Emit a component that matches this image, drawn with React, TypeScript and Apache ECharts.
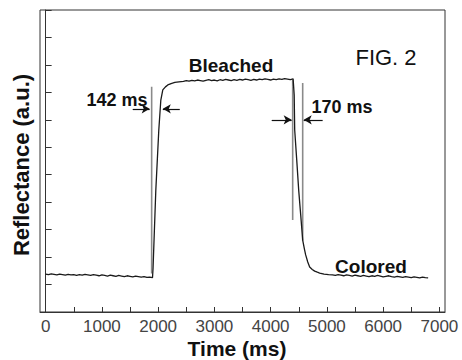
import React, { useEffect, useRef } from "react";
import * as echarts from "echarts";

// ---- Data ----
const sampleStepMs = 50;

// Colored state before bleaching: samples every 50 ms from 0 ms
const coloredStartT0 = 0;
const coloredStartValues = [
  1.38, 1.36, 1.39, 1.37, 1.35, 1.38, 1.36, 1.34, 1.37, 1.35,
  1.36, 1.33, 1.36, 1.34, 1.37, 1.35, 1.33, 1.36, 1.34, 1.32,
  1.35, 1.33, 1.31, 1.34, 1.32, 1.3, 1.33, 1.31, 1.29, 1.32,
  1.3, 1.28, 1.31, 1.29, 1.27, 1.29, 1.26, 1.27, 1.25,
];

// Bleaching rise
const riseTimes = [1910, 1959, 2012, 2048, 2083, 2130, 2172, 2230, 2297, 2370];
const riseValues = [1.6, 4.44, 6.63, 7.72, 8.09, 8.2, 8.27, 8.32, 8.36, 8.38];

// Bleached plateau: samples every 50 ms from 2450 ms
const bleachedT0 = 2450;
const bleachedValues = [
  8.4, 8.43, 8.41, 8.44, 8.42, 8.45, 8.43, 8.41, 8.44, 8.46,
  8.43, 8.45, 8.42, 8.46, 8.44, 8.47, 8.45, 8.43, 8.46, 8.44,
  8.47, 8.45, 8.48, 8.46, 8.44, 8.47, 8.45, 8.48, 8.46, 8.49,
  8.47, 8.45, 8.48, 8.46, 8.49, 8.47, 8.5, 8.48, 8.46, 8.49,
];

// Coloring fall
const fallTimes = [4419, 4428, 4464, 4499, 4535, 4570, 4600, 4623, 4660, 4694, 4740, 4783, 4830, 4872, 4950, 5030];
const fallValues = [7.9, 6.63, 5.54, 4.44, 3.53, 2.62, 2.3, 2.08, 1.82, 1.64, 1.55, 1.49, 1.45, 1.42, 1.38, 1.36];

// Colored state after: samples every 50 ms from 5100 ms
const coloredEndT0 = 5100;
const coloredEndValues = [
  1.35, 1.33, 1.36, 1.34, 1.32, 1.35, 1.33, 1.31, 1.34, 1.32,
  1.3, 1.33, 1.31, 1.29, 1.32, 1.3, 1.33, 1.31, 1.28, 1.3,
  1.32, 1.29, 1.27, 1.3, 1.28, 1.26, 1.29, 1.27, 1.25, 1.28,
  1.26, 1.24, 1.27, 1.25, 1.24,
];

// Vertical guide lines marking the response times
const guideTimes = [1885, 4392, 4570];
const guideTops = [8.2, 8.45, 8.34];
const guideBottoms = [1.4, 3.35, 2.6];

// Arrows: [from time, to time, level]
const arrowFrom = [1548, 2385, 4019, 4925];
const arrowTo = [1850, 2083, 4374, 4588];
const arrowLevel = [7.4, 7.4, 7.0, 7.0];

// Axis ticks
const xTickValues = [0, 500, 1000, 1500, 2000, 2500, 3000, 3500, 4000, 4500, 5000, 5500, 6000, 6500, 7000];
const xLabelValues = [0, 1000, 2000, 3000, 4000, 5000, 6000, 7000];

function regular(t0: number, values: number[]): [number, number][] {
  return values.map((v, i) => [t0 + i * sampleStepMs, v]);
}
function paired(ts: number[], vs: number[]): [number, number][] {
  return ts.map((t, i) => [t, vs[i]]);
}

export default function App() {
  const ref = useRef<HTMLDivElement>(null);
  useEffect(() => {
    document.body.style.margin = "0";
    const chart = echarts.init(ref.current!, undefined, { renderer: "svg" });
    const curve = [
      ...regular(coloredStartT0, coloredStartValues),
      ...paired(riseTimes, riseValues),
      ...regular(bleachedT0, bleachedValues),
      ...paired(fallTimes, fallValues),
      ...regular(coloredEndT0, coloredEndValues),
    ];
    const guideSeries = guideTimes.map((t, i) => ({
      type: "line",
      data: [
        [t, guideTops[i]],
        [t, guideBottoms[i]],
      ],
      showSymbol: false,
      silent: true,
      lineStyle: { color: "#8a8a8a", width: 1.6 },
      z: 1,
    }));
    const arrowData = arrowFrom.map((f, i) => [
      { coord: [f, arrowLevel[i]] },
      { coord: [arrowTo[i], arrowLevel[i]] },
    ]);
    const font = "'Liberation Sans', Arial, sans-serif";
    const text = (t: string, x: number, y: number, size: number, bold: boolean, rot = 0) => ({
      type: "text",
      x,
      y,
      rotation: rot,
      silent: true,
      style: {
        text: t,
        fill: "#111",
        font: `${bold ? "bold " : ""}${size}px ${font}`,
        align: "center",
        verticalAlign: "middle",
      },
    });
    chart.setOption({
      animation: false,
      backgroundColor: "#fff",
      grid: {
        left: 40,
        right: 17,
        top: 10,
        bottom: 48,
        show: true,
        borderColor: "#333",
        borderWidth: 1,
      },
      xAxis: {
        type: "value",
        min: -100,
        max: 7100,
        axisLine: { show: true, lineStyle: { color: "#333", width: 1 } },
        axisTick: {
          show: true,
          inside: true,
          length: 5,
          customValues: xTickValues,
          lineStyle: { color: "#333" },
        },
        axisLabel: {
          customValues: xLabelValues,
          formatter: (v: number) => String(v),
          fontSize: 17,
          lineHeight: 17,
          color: "#444",
          fontFamily: font,
          margin: 6,
        },
        splitLine: { show: false },
      },
      yAxis: {
        type: "value",
        min: 0,
        max: 11,
        interval: 1,
        axisLine: { show: true, lineStyle: { color: "#333", width: 1 } },
        axisTick: { show: true, inside: true, length: 6, lineStyle: { color: "#333" } },
        axisLabel: { show: false },
        splitLine: { show: false },
      },
      series: [
        {
          type: "line",
          data: curve,
          showSymbol: false,
          silent: true,
          lineStyle: { color: "#1a1a1a", width: 1.3 },
          z: 3,
        },
        ...guideSeries,
        {
          type: "line",
          data: [],
          silent: true,
          markLine: {
            silent: true,
            symbol: ["none", "arrow"],
            symbolSize: [7, 8],
            label: { show: false },
            lineStyle: { color: "#111", width: 1.2, type: "solid" },
            emphasis: { disabled: true },
            data: arrowData,
          },
        },
      ],
      graphic: [
        text("Time (ms)", 237, 348, 21, true),
        text("Reflectance (a.u.)", 21, 165, 22, true, Math.PI / 2),
        text("Bleached", 231, 65, 19, true),
        text("FIG. 2", 386, 57, 22, false),
        text("142 ms", 117, 100, 18, true),
        text("170 ms", 342, 107, 18, true),
        text("Colored", 371, 266, 19, true),
      ],
    });
    return () => chart.dispose();
  }, []);
  return (
    <div
      ref={ref}
      style={{ position: "absolute", left: 0, top: 0, width: 462, height: 360 }}
    />
  );
}
